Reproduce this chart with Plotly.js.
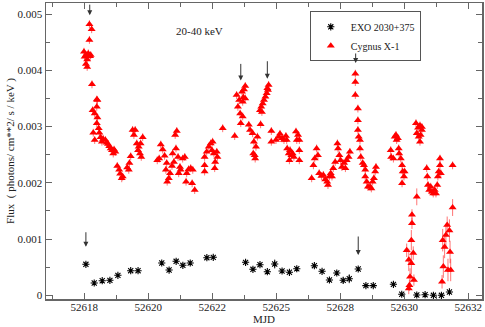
<!DOCTYPE html>
<html>
<head>
<meta charset="utf-8">
<script src="https://cdn.plot.ly/plotly-3.0.1.min.js"></script>
<style>
  html, body { margin: 0; padding: 0; background: #fff; }
  #chart { width: 485px; height: 327px; }
</style>
</head>
<body>
<div id="chart"></div>
<script>
// x positions of the labelled ticks and the labels printed under them
const tickPos = [52618, 52620, 52622, 52624, 52626, 52628, 52630];
const tickText = ['52618', '52620', '52622', '52625', '52628', '52630', '52632'];

// EXO 2030+375
const exoMjd = [52618.05, 52618.31, 52618.56, 52618.80, 52619.05, 52619.45, 52619.68, 52620.42, 52620.65, 52620.87,
    52621.08, 52621.31, 52621.83, 52622.03, 52623.04, 52623.27, 52623.49, 52623.72, 52623.95, 52624.18,
    52624.41, 52624.64, 52625.19, 52625.43, 52625.66, 52625.89, 52626.09, 52626.28, 52626.56, 52626.80,
    52627.03, 52627.66, 52627.92, 52628.39, 52628.65, 52628.91, 52629.16, 52629.41];
const exoFlux = [0.000551, 0.000218, 0.000259, 0.000266, 0.000355, 0.000437, 0.000437, 0.000574, 0.000449, 0.000604,
    0.000533, 0.000574, 0.000668, 0.000675, 0.000586, 0.000462, 0.000544, 0.000419, 0.000556, 0.000432,
    0.000409, 0.000472, 0.000526, 0.000426, 0.000272, 0.000396, 0.000266, 0.000295, 0.000467, 0.000171,
    0.000171, 0.000195, 0.000018, 0.000005, 0.00001, 0, 0, 0.000059];
const exoErr = [0.00003, 0.00003, 0.00003, 0.00003, 0.00003, 0.00003, 0.00003, 0.00003, 0.00003, 0.00003,
    0.00003, 0.00003, 0.00003, 0.00003, 0.00003, 0.00003, 0.00003, 0.00003, 0.00008, 0.00003,
    0.00003, 0.00003, 0.00003, 0.00003, 0.00003, 0.00003, 0.00005, 0.00008, 0.00003, 0.00003,
    0.00003, 0.00003, 0.00003, 0.00003, 0.00003, 0.00003, 0.00003, 0.00003];

// Cygnus X-1, well measured points
const cygMjd = [
    52618.16, 52618.23, 52618.16, 52617.99, 52618.05, 52618.125, 52618.18, 52618.01, 52618.09, 52618.05,
    52618.09, 52618.20, 52618.24, 52618.39, 52618.41, 52618.26, 52618.325, 52618.39, 52618.41, 52618.39,
    52618.45, 52618.28, 52618.325, 52618.47, 52618.51, 52618.55, 52618.59, 52618.66, 52618.70, 52618.74,
    52618.78, 52618.825, 52618.865, 52618.93, 52618.905, 52618.97, 52619.03, 52619.09, 52619.12, 52619.17,
    52619.20, 52619.34, 52619.41, 52619.45, 52619.39,
    52619.51, 52619.59, 52619.55, 52619.64, 52619.70, 52619.76, 52619.74, 52619.825, 52619.68, 52619.78,
    52620.39, 52620.34, 52620.45, 52620.51, 52620.28, 52620.575, 52620.55, 52620.64, 52620.59, 52620.68,
    52620.74, 52620.80, 52620.76, 52620.865, 52620.84, 52620.89, 52620.93, 52620.99, 52620.95, 52621.01,
    52621.075, 52621.14, 52621.20, 52621.18, 52621.26, 52621.325, 52621.39, 52621.37, 52621.45,
    52621.76, 52621.76, 52621.76, 52621.825, 52621.89, 52621.95, 52622.01, 52621.99, 52622.05, 52622.09,
    52622.14, 52622.16, 52622.075, 52622.325, 52622.70,
    52622.76, 52622.84, 52622.80, 52622.93, 52622.99, 52623.03, 52622.95, 52623.03, 52622.97, 52622.87,
    52622.95, 52622.89, 52623.14, 52623.18, 52623.26, 52623.30, 52623.365, 52623.41, 52623.325, 52623.28,
    52623.34,
    52623.49, 52623.53, 52623.575, 52623.615, 52623.66, 52623.70, 52623.74, 52623.76, 52623.72, 52623.55,
    52623.51,
    52623.845, 52623.845, 52623.99, 52624.075, 52624.115, 52624.18, 52624.24, 52624.30, 52624.325, 52624.34,
    52624.39, 52624.43, 52624.47, 52624.51, 52624.55, 52624.41, 52624.615, 52624.68, 52624.64, 52624.72,
    52624.72, 52624.72,
    52625.105, 52625.16, 52625.20, 52625.26, 52625.30, 52625.34, 52625.41, 52625.47, 52625.53, 52625.59,
    52625.615, 52625.66, 52625.70, 52625.74, 52625.78, 52625.84, 52625.91, 52625.93, 52625.97, 52626.01,
    52626.05, 52626.115, 52626.16, 52626.20, 52626.26, 52626.30,
    52626.47, 52626.47, 52626.47, 52626.55, 52626.55, 52626.55, 52626.575, 52626.615, 52626.615, 52626.64,
    52626.70, 52626.74, 52626.78, 52626.78, 52626.825, 52626.865, 52626.93, 52626.97, 52627.01, 52627.05,
    52627.09, 52627.115,
    52627.575, 52627.59, 52627.66, 52627.70, 52627.74, 52627.76, 52627.80, 52627.825, 52627.84, 52627.89,
    52627.93, 52627.95, 52627.93, 52627.99, 52628.01,
    52628.365, 52628.43, 52628.49, 52628.55, 52628.39, 52628.45, 52628.51, 52628.55, 52628.49,
    52628.70, 52628.72, 52628.74, 52628.78, 52628.825, 52628.865, 52628.905, 52628.95, 52628.99, 52629.03,
    52629.05, 52629.075, 52629.115, 52629.115, 52629.14, 52629.51
];
const cygFlux = [
    0.00482, 0.00473, 0.00454, 0.00433, 0.00427, 0.00430, 0.00425, 0.00424, 0.00419, 0.00411,
    0.00406, 0.00427, 0.00375, 0.00348, 0.00347, 0.00329, 0.00323, 0.00335, 0.00316, 0.00306,
    0.00297, 0.00289, 0.00276, 0.00289, 0.00281, 0.00273, 0.00278, 0.00276, 0.00271, 0.00269,
    0.00265, 0.00261, 0.00258, 0.00259, 0.00252, 0.00255, 0.00230, 0.00223, 0.00216, 0.00208,
    0.00211, 0.00227, 0.00235, 0.00247, 0.00223,
    0.00294, 0.00294, 0.00285, 0.00270, 0.00264, 0.00270, 0.00252, 0.00281, 0.00258, 0.00246,
    0.00268, 0.00243, 0.00259, 0.00248, 0.00240, 0.00235, 0.00223, 0.00208, 0.00202, 0.00217,
    0.00230, 0.00237, 0.00252, 0.00261, 0.00285, 0.00292, 0.00246, 0.00228, 0.00217, 0.00223,
    0.00243, 0.00246, 0.00217, 0.00202, 0.00224, 0.00226, 0.00223, 0.00199, 0.00187,
    0.00246, 0.00231, 0.00220, 0.00255, 0.00264, 0.00270, 0.00273, 0.00258, 0.00252, 0.00237,
    0.00255, 0.00246, 0.00226, 0.00297, 0.00283,
    0.00356, 0.00347, 0.00335, 0.00362, 0.00366, 0.00372, 0.00344, 0.00350, 0.00352, 0.00323,
    0.00318, 0.00306, 0.00303, 0.00294, 0.00288, 0.00273, 0.00264, 0.00282, 0.00249, 0.00252,
    0.00243,
    0.00329, 0.00335, 0.00341, 0.00347, 0.00353, 0.00359, 0.00365, 0.00374, 0.00368, 0.00326,
    0.00304,
    0.00292, 0.00273, 0.00276, 0.00282, 0.00287, 0.00279, 0.00276, 0.00283, 0.00276, 0.00261,
    0.00252, 0.00258, 0.00249, 0.00252, 0.00246, 0.00240, 0.00291, 0.00285, 0.00276, 0.00276,
    0.00258, 0.00240,
    0.00208, 0.00231, 0.00243, 0.00261, 0.00249, 0.00217, 0.00212, 0.00214, 0.00206, 0.00202,
    0.00196, 0.00211, 0.00217, 0.00211, 0.00226, 0.00237, 0.00270, 0.00261, 0.00249, 0.00240,
    0.00228, 0.00235, 0.00226, 0.00240, 0.00246, 0.00255,
    0.00394, 0.00379, 0.00356, 0.00332, 0.00311, 0.00294, 0.00282, 0.00276, 0.00261, 0.00246,
    0.00235, 0.00231, 0.00223, 0.00211, 0.00202, 0.00193, 0.00193, 0.00190, 0.00202, 0.00208,
    0.00220, 0.00228,
    0.00258, 0.00246, 0.00243, 0.00282, 0.00285, 0.00276, 0.00279, 0.00261, 0.00252, 0.00243,
    0.00231, 0.00220, 0.00199, 0.00211, 0.00220,
    0.00306, 0.00298, 0.00302, 0.00299, 0.00288, 0.00282, 0.00285, 0.00294, 0.00273,
    0.00226, 0.00211, 0.00196, 0.00187, 0.00193, 0.00184, 0.00181, 0.00187, 0.00181, 0.00196,
    0.00211, 0.00220, 0.00231, 0.00243, 0.00217, 0.00231
];
const cygErr = 0.00007;

// Cygnus X-1, faint points with large errors
const cygLowMjd = [52628.075, 52628.14, 52628.18, 52628.22, 52628.22, 52628.24, 52628.24, 52628.28, 52628.30, 52628.16,
    52628.14, 52628.39, 52629.20, 52629.22, 52629.26, 52629.30, 52629.34, 52629.41, 52629.43, 52629.365,
    52629.45, 52629.18, 52629.51];
const cygLowFlux = [0.00080, 0.00063, 0.00033, 0.00057, 0.00098, 0.00128, 0.00143, 0.00075, 0.00027, 0.00018,
    0.00012, 0.00175, 0.00098, 0.00051, 0.00086, 0.00107, 0.00125, 0.00115, 0.00077, 0.00045,
    0.00045, 0.00024, 0.00156];
const cygLowErr = [0.00012, 0.0002, 0.00015, 0.0002, 0.00018, 0.0001, 0.0001, 0.00012, 0.0001, 0.0001,
    0.0001, 0.00015, 0.0002, 0.0002, 0.0002, 0.0002, 0.00015, 0.0002, 0.0002, 0.0002,
    0.0002, 0.00012, 0.00015];

// arrows marking flares: tip position and arrow length in px
const arrowMjd = [52618.17, 52622.89, 52623.72, 52626.48, 52618.05, 52626.56];
const arrowFlux = [0.00498, 0.00382, 0.00385, 0.00413, 0.000863, 0.000716];
const arrowLen = [12, 18, 19, 11, 16, 20];

const FONT = 'Liberation Serif, Times New Roman, serif';
const AXIS_COLOR = '#666';

function renderChart() {
    const traces = [{
        x: exoMjd,
        y: exoFlux,
        type: 'scatter',
        mode: 'markers',
        name: 'EXO 2030+375',
        marker: { symbol: 'asterisk-open', size: 6, color: '#000', line: { color: '#111', width: 1.1 } },
        error_y: { type: 'data', array: exoErr, color: '#444', thickness: 1, width: 0 }
    }, {
        x: cygMjd,
        y: cygFlux,
        type: 'scatter',
        mode: 'markers',
        name: 'Cygnus X-1',
        legendgroup: 'cyg',
        marker: { symbol: 'triangle-up', size: 7, color: '#ff0000' },
        error_y: { type: 'constant', value: cygErr, color: 'rgba(255,0,0,0.55)', thickness: 1, width: 0 }
    }, {
        x: cygLowMjd,
        y: cygLowFlux,
        type: 'scatter',
        mode: 'markers',
        name: 'Cygnus X-1',
        legendgroup: 'cyg',
        showlegend: false,
        marker: { symbol: 'triangle-up', size: 7, color: '#ff0000' },
        error_y: { type: 'data', array: cygLowErr, color: 'rgba(255,0,0,0.55)', thickness: 1, width: 0 }
    }];

    const annotations = arrowMjd.map((x, i) => ({
        x: x, y: arrowFlux[i], xref: 'x', yref: 'y',
        text: '', showarrow: true, ax: 0, ay: -arrowLen[i],
        arrowhead: 2, arrowsize: 1, arrowwidth: 1, arrowcolor: '#333'
    }));
    annotations.push({
        x: 0.351, y: 0.931, xref: 'paper', yref: 'paper',
        text: '20-40 keV', showarrow: false,
        font: { family: FONT, size: 11, color: '#222' }
    });

    const axisCommon = {
        showgrid: false, zeroline: false,
        showline: true, linecolor: AXIS_COLOR, linewidth: 1.5,
        mirror: 'allticks', ticks: 'inside', ticklen: 6, tickwidth: 1, tickcolor: AXIS_COLOR,
        tickfont: { family: FONT, size: 11, color: '#222' }
    };

    const layout = {
        width: 485, height: 327,
        margin: { l: 46, r: 3, t: 3, b: 28 },
        paper_bgcolor: '#fff', plot_bgcolor: '#fff',
        showlegend: true,
        legend: {
            x: 0.605, y: 0.972, xanchor: 'left', yanchor: 'top',
            bgcolor: '#fff', bordercolor: '#555', borderwidth: 1,
            font: { family: FONT, size: 10, color: '#222' },
            itemwidth: 30, tracegroupgap: 0
        },
        xaxis: {
            ...axisCommon,
            range: [52616.803, 52630.428],
            tickvals: tickPos, ticktext: tickText,
            ticklabelstandoff: -3,
            minor: { dtick: 1, tick0: 52617, ticks: 'inside', ticklen: 4, tickcolor: AXIS_COLOR },
            title: { text: 'MJD', font: { family: FONT, size: 11, color: '#222' }, standoff: 0 }
        },
        yaxis: {
            ...axisCommon,
            range: [-0.000066, 0.005196],
            tick0: 0, dtick: 0.001, tickformat: '.3~f',
            minor: { dtick: 0.0005, ticks: 'inside', ticklen: 4, tickcolor: AXIS_COLOR },
            title: { text: 'Flux  ( photons/ cm**2/ s / keV )', font: { family: FONT, size: 11, color: '#222' }, standoff: 0 }
        },
        annotations: annotations
    };

    Plotly.newPlot('chart', traces, layout, { displayModeBar: false, staticPlot: true });
}

renderChart();
</script>
</body>
</html>
